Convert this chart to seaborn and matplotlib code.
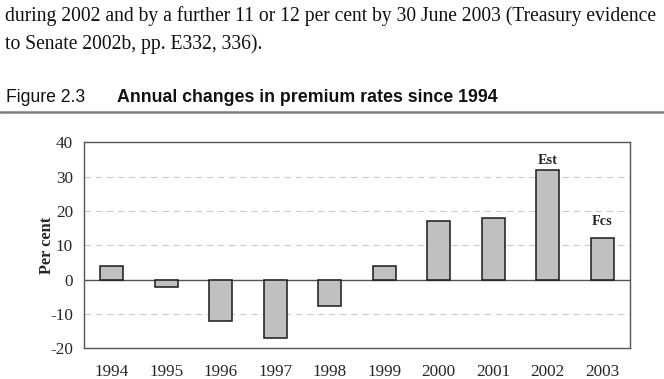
import matplotlib
matplotlib.use('Agg')
import matplotlib.pyplot as plt
import seaborn as sns
import pandas as pd

# Chart data
years = ['1994', '1995', '1996', '1997', '1998', '1999', '2000', '2001', '2002', '2003']
changes = [4, -2, -12, -17, -7.8, 4, 17, 18, 32, 12.2]
bar_notes = {'2002': 'Est', '2003': 'Fcs'}

intro_lines = [
    'during 2002 and by a further 11 or 12 per cent by 30 June 2003 (Treasury evidence',
    'to Senate 2002b, pp. E332, 336).',
]
fig_number = 'Figure 2.3'
fig_title = 'Annual changes in premium rates since 1994'

df = pd.DataFrame({'year': years, 'change': changes})

sns.set_style('white')
serif = ['Liberation Serif', 'DejaVu Serif']
sans = ['Liberation Sans', 'DejaVu Sans']
plt.rcParams['font.family'] = serif
plt.rcParams['axes.unicode_minus'] = False

fig = plt.figure(figsize=(6.64, 3.79), dpi=100)
ax = fig.add_axes([0.1265, 0.081, 0.8223, 0.5435])

# Text above the chart
fig.text(5 / 664, 1 - 21 / 379, intro_lines[0], fontsize=14.1, va='baseline', ha='left', family=serif,
         color='#111111')
fig.text(5 / 664, 1 - 49 / 379, intro_lines[1], fontsize=14.1, va='baseline', ha='left', family=serif,
         color='#111111')
fig.text(6 / 664, 1 - 102 / 379, fig_number, fontsize=12.7, va='baseline', ha='left', family=sans,
         color='#111111')
fig.text(117 / 664, 1 - 102 / 379, fig_title, fontsize=12.8, va='baseline', ha='left',
         family=sans, fontweight='bold', color='#111111')
fig.add_artist(plt.Line2D([0, 1], [1 - 112 / 379, 1 - 112 / 379], transform=fig.transFigure,
                          color='#808080', linewidth=1.8))

# Grid lines
for yv in [-10, 10, 20, 30]:
    ax.axhline(yv, color='#cccccc', linestyle=(0, (6, 4)), linewidth=0.8, zorder=0)
ax.axhline(0, color='#555555', linewidth=1.0, zorder=1)

sns.barplot(data=df, x='year', y='change', color='#c0c0c0', saturation=1,
            edgecolor='#1a1a1a', linewidth=1.1, width=0.42, ax=ax, zorder=2)

for i, yr in enumerate(years):
    if yr in bar_notes:
        off = 7 if bar_notes[yr] == 'Est' else 11.5
        ax.annotate(bar_notes[yr], (i, changes[i]), xytext=(0, off), textcoords='offset points',
                    ha='center', va='center', fontsize=10.3, fontweight='bold', family=serif)

ax.set_ylim(-20, 40)
ax.set_yticks([-20, -10, 0, 10, 20, 30, 40])
ax.set_xlim(-0.51, 9.51)
ax.set_xlabel('')
ax.set_ylabel('Per cent', fontsize=11.8, fontweight='bold', labelpad=-3.5)
ax.tick_params(axis='both', length=0, labelsize=12.3)
ax.tick_params(axis='x', pad=11)
ax.tick_params(axis='y', pad=8)
for s in ax.spines.values():
    s.set_visible(True)
    s.set_color('#555555')
    s.set_linewidth(1.0)

fig.savefig('out.png', dpi=100)
